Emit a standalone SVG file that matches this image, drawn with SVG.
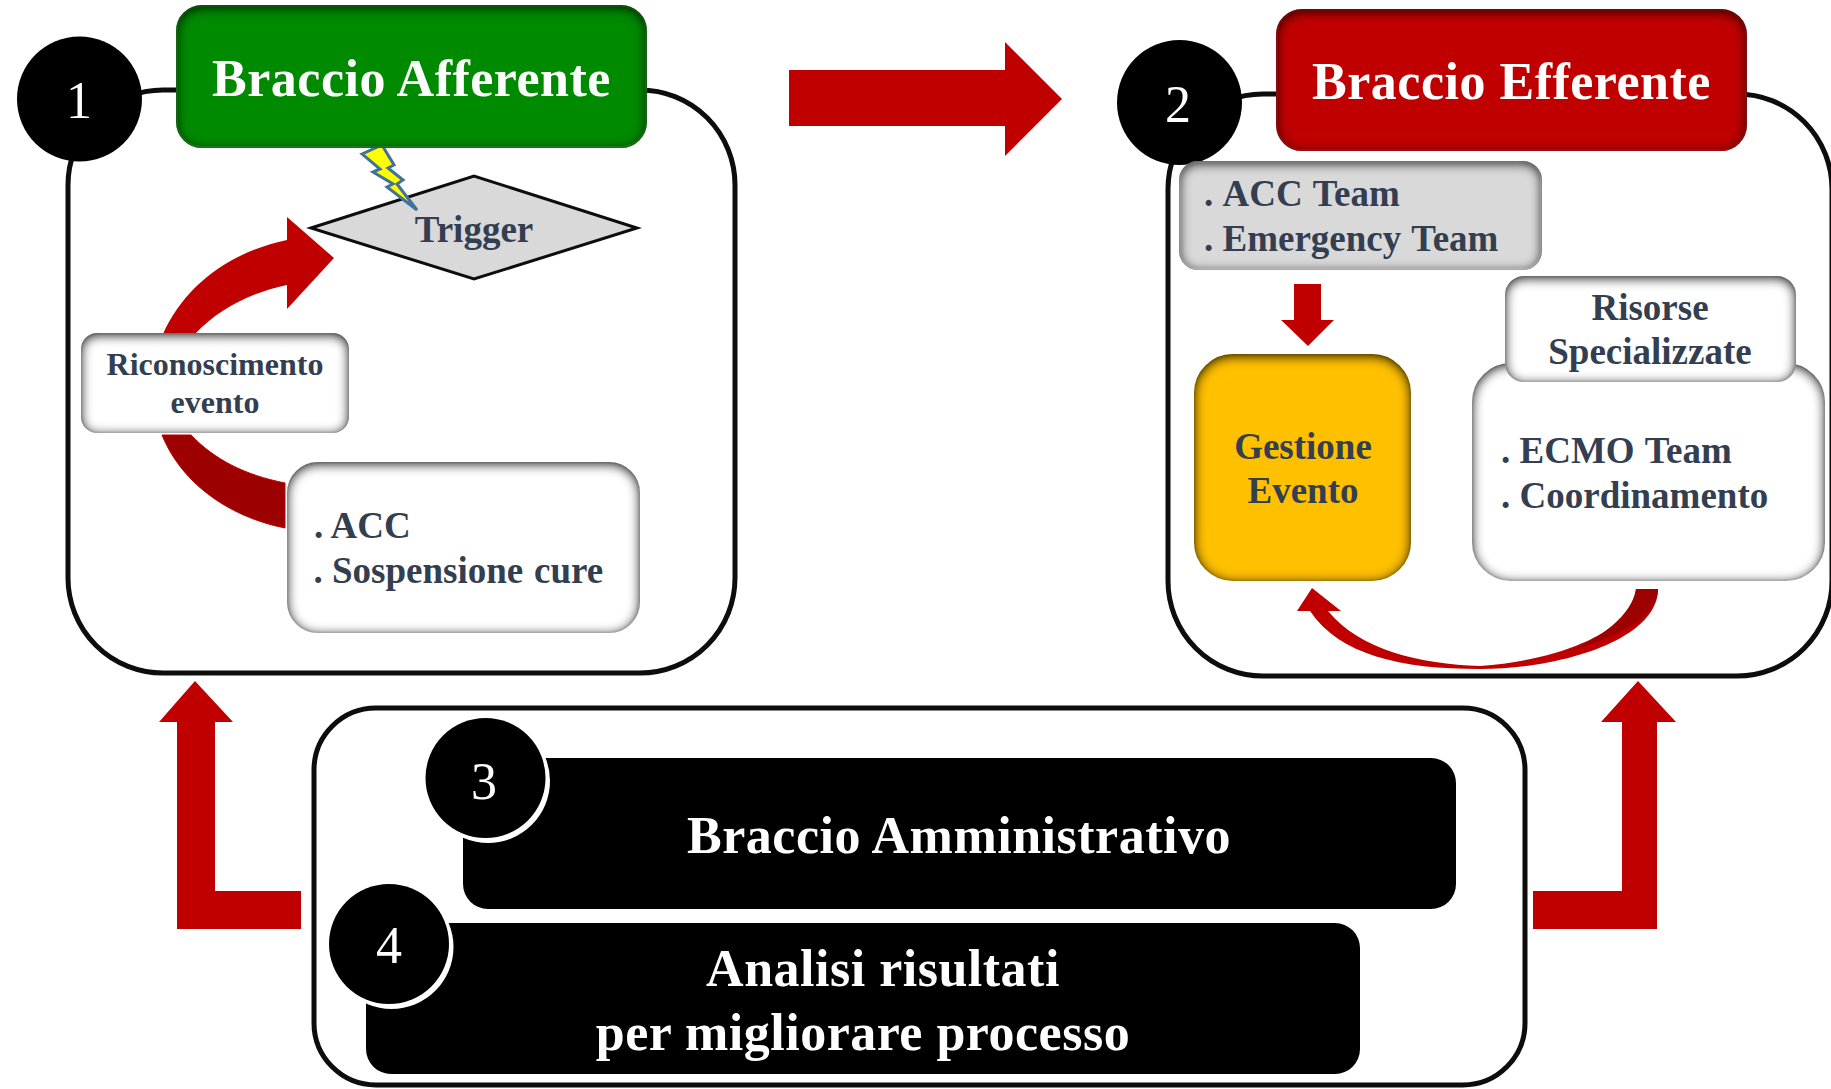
<svg xmlns="http://www.w3.org/2000/svg" width="1831" height="1089" viewBox="0 0 1831 1089">
<defs>
<filter id="inset" x="-15%" y="-25%" width="130%" height="150%" color-interpolation-filters="sRGB">
<feComponentTransfer in="SourceAlpha" result="inv"><feFuncA type="table" tableValues="1 0"/></feComponentTransfer>
<feGaussianBlur in="inv" stdDeviation="6" result="b"/>
<feOffset in="b" dy="2" result="o"/>
<feFlood flood-color="#000" flood-opacity="0.9"/>
<feComposite in2="o" operator="in" result="s"/>
<feComposite in="s" in2="SourceAlpha" operator="in" result="s2"/>
<feMerge><feMergeNode in="SourceGraphic"/><feMergeNode in="s2"/></feMerge>
</filter>
</defs>
<style>
text{font-family:"Liberation Serif","Times New Roman",serif}
.t{font-weight:bold;fill:#333f50;font-size:37px}
.ws{word-spacing:1.500px}
.c{text-anchor:middle}
.w{font-weight:bold;fill:#fff;font-size:52px;letter-spacing:.5px}
.n{fill:#fff;font-size:52px;text-anchor:middle}
.frame{fill:#fff;stroke:#0d0d0d;stroke-width:5}
.red{fill:#c00000}
.box{fill:#fff;stroke:#f4f4f4;stroke-width:2;filter:url(#inset)}
</style>
<g id="frame-1"><rect class="frame" x="68" y="90" width="667" height="583" rx="95"/></g>
<g id="frame-2"><rect class="frame" x="1168" y="94" width="664" height="582" rx="95"/></g>
<g id="frame-3"><rect class="frame" x="314" y="708" width="1211" height="377" rx="62"/></g>
<g id="connectors">
<path class="red" d="M789 70H1005V42L1062 99L1005 156V126H789Z"/>
<path class="red" d="M301 929H177V722H159L195 681L233 722H215V891H301Z"/>
<path class="red" d="M1533 929H1657V722H1676L1638 681L1601 722H1622V891H1533Z"/>
<path class="red" d="M163 334C185 285 230 252 287 240V217L334 258L287 309V285C250 293 220 308 195 334Z"/>
<path fill="#9c0000" stroke="#c00000" d="M162 435C180 480 225 516 285 528V483C245 475 215 460 191 435Z"/>
<path class="red" d="M1294 284H1321V320H1334L1308 346L1281 320H1294Z"/>
<path fill="#c00000" d="M1636 589C1632 632 1560 660 1480 666C1420 664 1360 650 1328 611H1341L1312 588L1297 611H1310C1340 655 1400 669 1480 669C1560 669 1658 640 1658 589Z"/>
<path fill="#9c0000" d="M1636 589C1632 615 1600 640 1565 652C1610 640 1658 620 1658 589Z"/>
</g>
<g id="node-trigger">
<path fill="#d9d9d9" stroke="#0d0d0d" stroke-width="3" d="M311 228L474 176L637 228L474 279Z"/>
<text class="t c" x="474" y="242">Trigger</text>
</g>
<g id="node-bolt"><path fill="#ffff00" stroke="#41719c" stroke-width="3" d="M362 154L382 145L394 165L388 168L403 180L397 184L417 210L387 187L393 184L373 172L380 169Z"/></g>
<g id="node-afferente">
<rect x="177" y="6" width="469" height="141" rx="25" fill="#008a00" stroke="#1fa51f" stroke-width="2" filter="url(#inset)"/>
<text class="w c" x="411.500" y="96">Braccio Afferente</text>
</g>
<g id="node-1"><circle cx="79.500" cy="99" r="62.500" fill="#000"/><text class="n" x="79" y="118">1</text></g>
<g id="node-riconoscimento">
<rect class="box" x="82" y="334" width="266" height="98" rx="15"/>
<text class="t c" style="font-size:32px" x="215" y="375">Riconoscimento</text>
<text class="t c" style="font-size:32px" x="215" y="413">evento</text>
</g>
<g id="node-acc">
<rect class="box" x="288" y="463" width="351" height="169" rx="30"/>
<text class="t" x="314" y="538">. ACC</text>
<text class="t" x="313.500" y="583">. <tspan class="ws">Sospensione cure</tspan></text>
</g>
<g id="node-efferente">
<rect x="1277" y="10" width="469" height="140" rx="25" fill="#c00000" stroke="#e01010" stroke-width="2" filter="url(#inset)"/>
<text class="w c" x="1511.500" y="99">Braccio Efferente</text>
</g>
<g id="node-2"><circle cx="1179.500" cy="102.500" r="62.500" fill="#000"/><text class="n" x="1178" y="122">2</text></g>
<g id="node-teams">
<rect class="box" style="fill:#d9d9d9" x="1180" y="162" width="361" height="107" rx="18"/>
<text class="t" x="1204" y="206">. <tspan class="ws">ACC Team</tspan></text>
<text class="t" x="1204" y="251">. <tspan class="ws">Emergency Team</tspan></text>
</g>
<g id="node-gestione">
<rect x="1195" y="355" width="215" height="225" rx="38" fill="#ffc000" stroke="#f5b800" stroke-width="2" filter="url(#inset)"/>
<text class="t c" x="1303" y="459">Gestione</text>
<text class="t c" x="1303" y="503">Evento</text>
</g>
<g id="node-ecmo">
<rect class="box" x="1473" y="364" width="351" height="216" rx="38"/>
<text class="t" x="1501" y="463">. <tspan class="ws">ECMO Team</tspan></text>
<text class="t" x="1501" y="508">. Coordinamento</text>
</g>
<g id="node-risorse">
<rect class="box" x="1506" y="277" width="289" height="104" rx="18"/>
<text class="t c" x="1650" y="320">Risorse</text>
<text class="t c" x="1650" y="364">Specializzate</text>
</g>
<g id="node-amministrativo">
<rect x="463" y="758" width="993" height="151" rx="25" fill="#000"/>
<text class="w c" x="959" y="853">Braccio Amministrativo</text>
</g>
<g id="node-3"><circle cx="488" cy="781" r="62" fill="#fff"/><circle cx="485.500" cy="778" r="60" fill="#000"/><text class="n" x="484" y="799">3</text></g>
<g id="node-analisi">
<rect x="366" y="923" width="994" height="151" rx="25" fill="#000"/>
<text class="w c" x="883" y="986">Analisi risultati</text>
<text class="w c" x="863" y="1050">per migliorare processo</text>
</g>
<g id="node-4"><circle cx="391.500" cy="947" r="62" fill="#fff"/><circle cx="389" cy="944" r="60" fill="#000"/><text class="n" x="389" y="963">4</text></g>
</svg>
